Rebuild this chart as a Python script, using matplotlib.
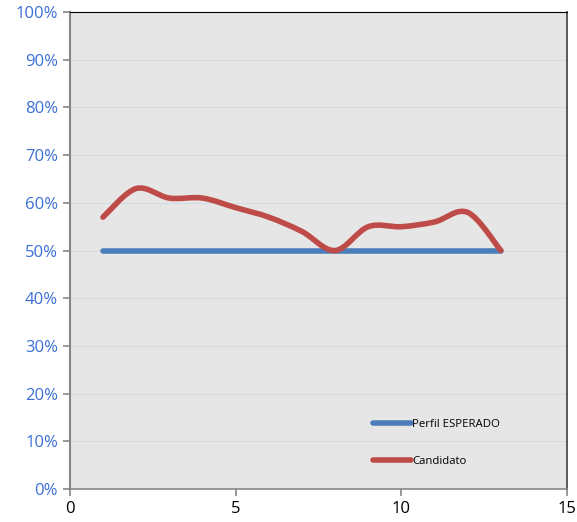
import numpy as np
import matplotlib.pyplot as plt
from matplotlib.path import Path
from matplotlib.patches import PathPatch
from matplotlib.ticker import PercentFormatter

# data
x = [1, 2, 3, 4, 5, 6, 7, 8, 9, 10, 11, 12, 13]
esperado = [50, 50, 50, 50, 50, 50, 50, 50, 50, 50, 50, 50, 50]
candidato = [57, 63, 61, 61, 59, 57, 54, 50, 55, 55, 56, 58, 50]

blue = '#4a7ebb'
red = '#be4b48'

plt.rcParams['font.family'] = ['Open Sans', 'DejaVu Sans']

fig = plt.figure(figsize=(5.77, 5.22), dpi=100)
ax = fig.add_axes([0.121, 0.063, 0.862, 0.914])
ax.set_facecolor('#e6e6e6')


def smooth_path(xs, ys):
    # Excel-like smoothed line: cubic Bezier through each point
    pts = np.column_stack([xs, ys]).astype(float)
    n = len(pts)
    verts = [pts[0]]
    codes = [Path.MOVETO]
    for i in range(n - 1):
        p0 = pts[i - 1] if i > 0 else pts[i]
        p1 = pts[i]
        p2 = pts[i + 1]
        p3 = pts[i + 2] if i + 2 < n else pts[i + 1]
        c1 = p1 + (p2 - p0) / 6
        c2 = p2 - (p3 - p1) / 6
        verts += [c1, c2, p2]
        codes += [Path.CURVE4] * 3
    return Path(verts, codes)


ax.plot(x, esperado, color=blue, lw=4, solid_capstyle='round', label='Perfil ESPERADO', zorder=3)
ax.add_patch(PathPatch(smooth_path(x, candidato), facecolor='none', edgecolor=red, lw=4,
                       capstyle='round', zorder=4))
ax.plot([], [], color=red, lw=4, solid_capstyle='round', label='Candidato')

ax.set_xlim(0, 15)
ax.set_ylim(0, 100)
ax.set_xticks([0, 5, 10, 15])
ax.set_yticks(np.arange(0, 101, 10))
ax.yaxis.set_major_formatter(PercentFormatter(decimals=0))
ax.grid(axis='y', color='#d6dae6', lw=0.8)
ax.set_axisbelow(True)

ax.tick_params(axis='y', colors='#868686', labelcolor='#3b6fd6', labelsize=12, length=5, width=1.2)
ax.tick_params(axis='x', colors='#868686', labelcolor='black', labelsize=12, length=5, width=1.2)
ax.spines['left'].set_color('#868686')
ax.spines['left'].set_linewidth(1.5)
ax.spines['bottom'].set_color('#868686')
ax.spines['bottom'].set_linewidth(1.2)
ax.spines['top'].set_color('black')
ax.spines['top'].set_linewidth(0.8)
ax.spines['right'].set_color('#404040')
ax.spines['right'].set_linewidth(1.2)

ax.legend(loc='lower right', bbox_to_anchor=(0.885, 0.025), frameon=False, fontsize=8.2,
          handlelength=3.3, handletextpad=0.1, labelspacing=2.3)

fig.savefig('out.png', dpi=100)
